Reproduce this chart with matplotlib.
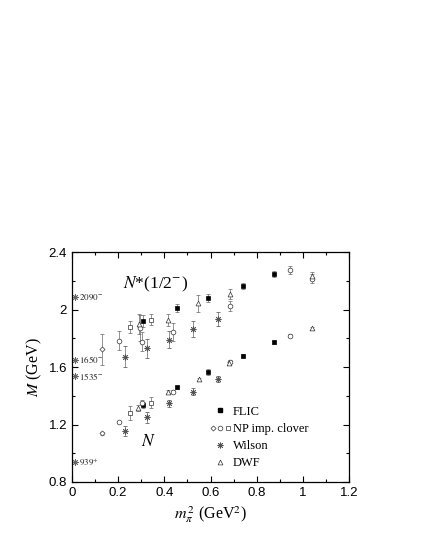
import matplotlib
matplotlib.use("Agg")
import matplotlib.pyplot as plt
from matplotlib.lines import Line2D
from matplotlib.legend_handler import HandlerTuple

plt.rcParams['font.family'] = ['Liberation Sans', 'DejaVu Sans']
plt.rcParams['mathtext.fontset'] = 'stix'

# FLIC (filled squares)
flic_x = [0.308, 0.455, 0.588, 0.742, 0.876]
flic_nstar = [1.92, 2.01, 2.08, 2.165, 2.245]
flic_nstar_err = [0.04, 0.03, 0.025, 0.02, 0.02]
flic_n = [1.335, 1.46, 1.565, 1.677, 1.772]
flic_n_err = [0.02, 0.01, 0.02, 0.01, 0.01]

# NP improved clover: diamonds, circles, squares
npd_x = [0.131]
npd_nstar = [1.723]
npd_nstar_err = [0.11]
npd_n = [1.14]
npd_n_err = [0.01]

npc_nstar_x = [0.204, 0.295, 0.302, 0.439, 0.685, 0.946, 1.04]
npc_nstar = [1.783, 1.872, 1.776, 1.843, 2.027, 2.275, 2.215]
npc_nstar_err = [0.065, 0.09, 0.065, 0.065, 0.035, 0.03, 0.03]
npc_n_x = [0.204, 0.302, 0.439, 0.685, 0.946]
npc_n = [1.217, 1.352, 1.428, 1.637, 1.818]
npc_n_err = [0.01, 0.015, 0.01, 0.01, 0.01]

nps_x = [0.251, 0.342]
nps_nstar = [1.88, 1.93]
nps_nstar_err = [0.04, 0.04]
nps_n = [1.278, 1.352]
nps_n_err = [0.05, 0.04]

# Wilson (asterisks)
wil_nstar_x = [0.23, 0.326, 0.42, 0.526, 0.631]
wil_nstar = [1.672, 1.73, 1.79, 1.864, 1.934]
wil_nstar_err = [0.075, 0.065, 0.06, 0.055, 0.05]
wil_n_x = [0.23, 0.323, 0.422, 0.526, 0.634]
wil_n = [1.155, 1.25, 1.347, 1.428, 1.516]
wil_n_err = [0.035, 0.04, 0.025, 0.025, 0.02]

# DWF (triangles)
dwf_nstar_x = [0.29, 0.418, 0.547, 0.685, 1.041]
dwf_nstar = [1.90, 1.927, 2.043, 2.11, 2.232]
dwf_nstar_err = [0.07, 0.04, 0.06, 0.035, 0.03]
dwf_n_x = [0.285, 0.418, 0.55, 0.682, 1.041]
dwf_n = [1.315, 1.428, 1.514, 1.625, 1.869]
dwf_n_err = [0.02, 0.01, 0.01, 0.01, 0.01]

# physical states
phys_mass = [2.090, 1.650, 1.535, 0.939]
phys_label = [r'$2090^{-}$', r'$1650^{-}$', r'$1535^{-}$', r'$939^{+}$']

fig = plt.figure(figsize=(4.21, 5.45), dpi=100)
ax = fig.add_axes([0.171, 0.1156, 0.658, 0.422])

ekw = dict(ls='none', ecolor='#666666', elinewidth=0.5, capsize=1.3, capthick=0.5)
okw = dict(mfc='white', mec='#333333', mew=0.5)
star_kw = dict(mec='#555555', mew=0.6)


def plot_set(x, y, e, marker, ms, filled=False, star=False):
    if filled:
        style = dict(mfc='black', mec='black', mew=0.5)
    elif star:
        style = star_kw
    else:
        style = okw
    ax.errorbar(x, y, yerr=e, marker=marker, ms=ms, zorder=3, **ekw, **style)


for y, e in [(flic_nstar, flic_nstar_err), (flic_n, flic_n_err)]:
    plot_set(flic_x, y, e, 's', 3.2, filled=True)
for y, e in [(npd_nstar, npd_nstar_err), (npd_n, npd_n_err)]:
    plot_set(npd_x, y, e, 'D', 2.6)
plot_set(npc_nstar_x, npc_nstar, npc_nstar_err, 'o', 3.4)
plot_set(npc_n_x, npc_n, npc_n_err, 'o', 3.4)
for y, e in [(nps_nstar, nps_nstar_err), (nps_n, nps_n_err)]:
    plot_set(nps_x, y, e, 's', 3.2)
plot_set(wil_nstar_x, wil_nstar, wil_nstar_err, (8, 2, 0), 4.2, star=True)
plot_set(wil_n_x, wil_n, wil_n_err, (8, 2, 0), 4.2, star=True)
plot_set(dwf_nstar_x, dwf_nstar, dwf_nstar_err, '^', 3.5)
plot_set(dwf_n_x, dwf_n, dwf_n_err, '^', 3.5)

# physical masses
ax.plot([0.014] * len(phys_mass), phys_mass, ls='none', marker=(8, 2, 0),
        ms=4.5, mec='#666666', mew=0.6)
for m, lab in zip(phys_mass, phys_label):
    ax.text(0.032, m, lab, fontsize=6.5, va='center', ha='left', color='#222222')

ax.text(0.22, 2.15, r'$N$*(1/2$^{-}$)', fontsize=12.5, family='Liberation Serif')
ax.text(0.30, 1.05, r'$N$', fontsize=12.5)

ax.set_xlim(0, 1.2)
ax.set_ylim(0.8, 2.4)
ax.set_xticks([0, 0.2, 0.4, 0.6, 0.8, 1.0, 1.2])
ax.set_xticklabels(['0', '0.2', '0.4', '0.6', '0.8', '1', '1.2'])
ax.set_yticks([0.8, 1.2, 1.6, 2.0, 2.4])
ax.set_yticklabels(['0.8', '1.2', '1.6', '2', '2.4'])
ax.set_xticks([0.1, 0.3, 0.5, 0.7, 0.9, 1.1], minor=True)
ax.set_yticks([1.0, 1.4, 1.8, 2.2], minor=True)
ax.tick_params(which='both', direction='in', top=True, right=True, labelsize=9.5)
ax.tick_params(which='major', length=4, width=0.8)
ax.tick_params(which='minor', length=2.5, width=0.8)
for s in ax.spines.values():
    s.set_linewidth(0.9)

ax.set_ylabel(r'$M$ (GeV)', fontsize=11.5, family='Liberation Serif', labelpad=3)
ax.set_xlabel(r'$m_{\pi}^{\,2}$ (GeV$^2$)', fontsize=11.5,
              family='Liberation Serif', labelpad=4)

handles = [
    Line2D([], [], ls='none', marker='s', ms=3.2, mfc='black', mec='black'),
    (Line2D([], [], ls='none', marker='D', ms=2.6, **okw),
     Line2D([], [], ls='none', marker='o', ms=3.4, **okw),
     Line2D([], [], ls='none', marker='s', ms=3.2, **okw)),
    Line2D([], [], ls='none', marker=(8, 2, 0), ms=4.2, **star_kw),
    Line2D([], [], ls='none', marker='^', ms=3.5, **okw),
]
labels = ['FLIC', 'NP imp. clover', 'Wilson', 'DWF']
ax.legend(handles, labels, loc='upper left', bbox_to_anchor=(0.495, 0.332),
          frameon=False, borderpad=0, borderaxespad=0, handlelength=1.75,
          handletextpad=0.15, labelspacing=0.42,
          prop={'family': 'Liberation Serif', 'size': 9},
          handler_map={tuple: HandlerTuple(ndivide=None, pad=0.05)})

fig.savefig('out.png', dpi=100)
